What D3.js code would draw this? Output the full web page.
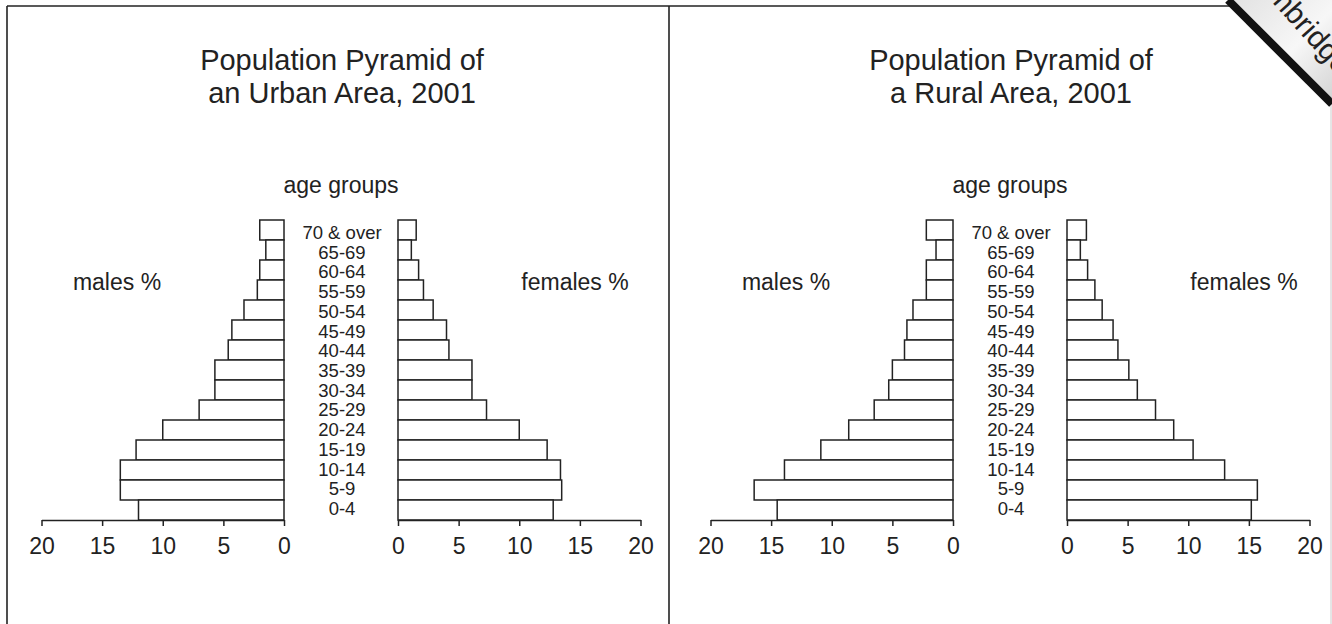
<!DOCTYPE html>
<html>
<head>
<meta charset="utf-8">
<script src="https://cdn.jsdelivr.net/npm/d3@7/dist/d3.min.js"></script>
<style>
  html, body { margin: 0; padding: 0; background: #fff; }
  svg { display: block; }
  text { font-family: "Liberation Sans", Arial, Helvetica, sans-serif; fill: #222; }
</style>
</head>
<body>
<svg id="chart" width="1332" height="624"></svg>
<script>
// ---- data ----
const ageGroups = ["70 & over","65-69","60-64","55-59","50-54","45-49","40-44","35-39","30-34","25-29","20-24","15-19","10-14","5-9","0-4"];
const urbanMales   = [2.0, 1.5, 2.0, 2.2, 3.3, 4.3, 4.6, 5.7, 5.7, 7.0, 10.0, 12.2, 13.5, 13.5, 12.0];
const urbanFemales = [1.5, 1.1, 1.7, 2.1, 2.9, 4.0, 4.2, 6.1, 6.1, 7.3, 10.0, 12.3, 13.4, 13.5, 12.8];
const ruralMales   = [2.2, 1.4, 2.2, 2.2, 3.3, 3.8, 4.0, 5.0, 5.3, 6.5, 8.6, 10.9, 13.9, 16.4, 14.5];
const ruralFemales = [1.6, 1.1, 1.7, 2.3, 2.9, 3.8, 4.2, 5.1, 5.8, 7.3, 8.8, 10.4, 13.0, 15.7, 15.2];
const tickValues = [0, 5, 10, 15, 20];
const panels = [
  { title: ["Population Pyramid of", "an Urban Area, 2001"], males: urbanMales, females: urbanFemales },
  { title: ["Population Pyramid of", "a Rural Area, 2001"], males: ruralMales, females: ruralFemales }
];

const svg = d3.select("#chart");
const ink = "#222";

// frame
svg.append("line").attr("x1", 7).attr("y1", 6).attr("x2", 1240).attr("y2", 6).attr("stroke", ink).attr("stroke-width", 1.6);
svg.append("line").attr("x1", 7).attr("y1", 6).attr("x2", 7).attr("y2", 624).attr("stroke", ink).attr("stroke-width", 1.6);
svg.append("line").attr("x1", 669).attr("y1", 6).attr("x2", 669).attr("y2", 624).attr("stroke", ink).attr("stroke-width", 1.6);
svg.append("line").attr("x1", 1331).attr("y1", 100).attr("x2", 1331).attr("y2", 624).attr("stroke", "#ccc").attr("stroke-width", 1);

panels.forEach((p, i) => {
  const g = svg.append("g").attr("transform", `translate(${i * 669},0)`);
  const xM = d3.scaleLinear().domain([0, 20]).range([284, 41.5]);
  const xF = d3.scaleLinear().domain([0, 20]).range([398, 640.5]);
  const y = d3.scaleBand().domain(ageGroups).range([220, 520]).padding(0);
  const yLab = d3.scalePoint().domain(ageGroups).range([239, 515]);

  // titles
  g.append("text").attr("x", 342).attr("y", 70).attr("text-anchor", "middle").attr("font-size", 29).text(p.title[0]);
  g.append("text").attr("x", 342).attr("y", 103).attr("text-anchor", "middle").attr("font-size", 29).text(p.title[1]);
  g.append("text").attr("x", 341).attr("y", 193).attr("text-anchor", "middle").attr("font-size", 23).text("age groups");
  g.append("text").attr("x", 117).attr("y", 290).attr("text-anchor", "middle").attr("font-size", 23).text("males %");
  g.append("text").attr("x", 575).attr("y", 290).attr("text-anchor", "middle").attr("font-size", 23).text("females %");

  // bars
  g.selectAll("rect.m").data(p.males).join("rect").attr("class", "m")
    .attr("x", d => xM(d)).attr("y", (d, k) => y(ageGroups[k]))
    .attr("width", d => xM(0) - xM(d)).attr("height", y.bandwidth())
    .attr("fill", "#fff").attr("stroke", ink).attr("stroke-width", 1.5);
  g.selectAll("rect.f").data(p.females).join("rect").attr("class", "f")
    .attr("x", xF(0)).attr("y", (d, k) => y(ageGroups[k]))
    .attr("width", d => xF(d) - xF(0)).attr("height", y.bandwidth())
    .attr("fill", "#fff").attr("stroke", ink).attr("stroke-width", 1.5);

  // age labels
  g.selectAll("text.age").data(ageGroups).join("text").attr("class", "age")
    .attr("x", 342).attr("y", d => yLab(d)).attr("text-anchor", "middle")
    .attr("font-size", 18.5).text(d => d);

  // axes
  const axM = d3.axisBottom(xM).tickValues(tickValues).tickSize(6).tickSizeOuter(0).tickPadding(6);
  const axF = d3.axisBottom(xF).tickValues(tickValues).tickSize(6).tickSizeOuter(0).tickPadding(6);
  [axM, axF].forEach(ax => {
    const a = g.append("g").attr("transform", "translate(0,520)").call(ax);
    a.select(".domain").attr("stroke", ink).attr("stroke-width", 1.5);
    a.selectAll(".tick line").attr("stroke", ink).attr("stroke-width", 1.5);
    a.selectAll(".tick text").attr("font-size", 23).attr("fill", ink)
      .attr("font-family", "Liberation Sans, Arial, sans-serif").attr("dy", "0.95em");
  });
});

// corner stamp
const defs = svg.append("defs");
const grad = defs.append("linearGradient").attr("id", "stampGrad").attr("x1", "0").attr("y1", "0").attr("x2", "1").attr("y2", "1");
grad.append("stop").attr("offset", "0%").attr("stop-color", "#e2e2e2");
grad.append("stop").attr("offset", "55%").attr("stop-color", "#f7f7f7");
grad.append("stop").attr("offset", "100%").attr("stop-color", "#d4d4d4");
defs.append("clipPath").attr("id", "stampClip").append("polygon").attr("points", "1232,0 1332,0 1332,100");
svg.append("polygon").attr("points", "1232,0 1332,0 1332,100").attr("fill", "url(#stampGrad)");
svg.append("g").attr("clip-path", "url(#stampClip)")
  .append("text")
  .attr("transform", "translate(1240,-33) rotate(48)")
  .attr("font-size", 30).attr("fill", "#111").text("Cambridge");
svg.append("line").attr("x1", 1228).attr("y1", 0).attr("x2", 1332).attr("y2", 104)
  .attr("stroke", "#111").attr("stroke-width", 8);
</script>
</body>
</html>
